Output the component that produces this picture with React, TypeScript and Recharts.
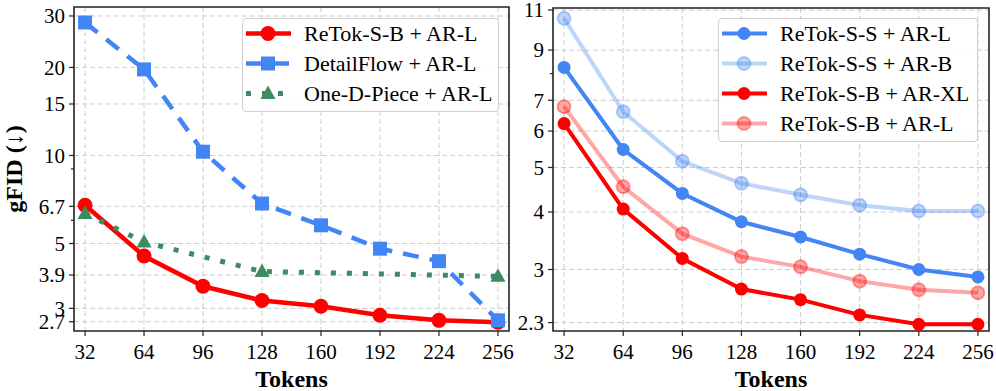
import React from 'react';
import { LineChart, Line, XAxis, YAxis, CartesianGrid, ReferenceArea } from 'recharts';

const tokens = [32, 64, 96, 128, 160, 192, 224, 256];

// left panel
const retokSBArL = [6.76, 4.53, 3.57, 3.19, 3.05, 2.84, 2.73, 2.69];
const detailFlowArL = [28.5, 19.7, 10.3, 6.85, 5.77, 4.8, 4.35, 2.73];
const oneDPieceArL = [6.33, 5.06, null, 4.01, null, null, null, 3.86];
const leftTicks = [2.7, 3, 3.9, 5, 6.7, 10, 15, 20, 30];
const leftMinor = [6, 9];

// right panel
const retokSSArL = [8.25, 5.47, 4.39, 3.81, 3.53, 3.24, 3.0, 2.89];
const retokSSArB = [10.55, 6.61, 5.16, 4.62, 4.36, 4.14, 4.02, 4.02];
const retokSBArXL = [6.23, 4.06, 3.17, 2.72, 2.58, 2.39, 2.28, 2.28];
const retokSBArL2 = [6.78, 4.54, 3.59, 3.2, 3.04, 2.83, 2.71, 2.67];
const rightTicks = [2.3, 3, 4, 5, 6, 7, 9, 11];
const rightMinor = [8];

const leftData = tokens.map((t, i) => ({
  t,
  a: retokSBArL[i],
  b: detailFlowArL[i],
  c: oneDPieceArL[i],
}));

const rightData = tokens.map((t, i) => ({
  t,
  a: retokSSArL[i],
  b: retokSSArB[i],
  c: retokSBArXL[i],
  d: retokSBArL2[i],
}));

const RED = '#ff0000';
const BLUE = '#4285f4';
const GREEN = '#3d8b60';
const SERIF = '"Liberation Serif", "Times New Roman", serif';
const TICK_SIZE = 5;
const TICK_MARGIN = 4;

const circleDot = (color: string, r: number, alpha = 1) => (p: any) => {
  if (p.value == null || p.cx == null) return <g key={p.index} />;
  return (
    <circle
      key={p.index}
      cx={p.cx}
      cy={p.cy}
      r={r}
      fill={color}
      fillOpacity={alpha}
      stroke={color}
      strokeOpacity={alpha}
      strokeWidth={alpha < 1 ? 2 : 0}
    />
  );
};

const squareDot = (color: string, s: number) => (p: any) => {
  if (p.value == null || p.cx == null) return <g key={p.index} />;
  return <rect key={p.index} x={p.cx - s / 2} y={p.cy - s / 2} width={s} height={s} fill={color} />;
};

const triDot = (color: string, s: number) => (p: any) => {
  if (p.value == null || p.cx == null) return <g key={p.index} />;
  const h = s * 0.9;
  return (
    <path
      key={p.index}
      d={`M${p.cx},${p.cy - h * 0.6} L${p.cx + s / 2},${p.cy + h * 0.4} L${p.cx - s / 2},${p.cy + h * 0.4} Z`}
      fill={color}
    />
  );
};

const makeYTick = (major: number[]) => (props: any) => {
  const { x, y, payload } = props;
  const isMajor = major.includes(payload.value);
  const ax = x + TICK_SIZE + TICK_MARGIN;
  return (
    <g>
      <line x1={ax} x2={ax - (isMajor ? TICK_SIZE : 3)} y1={y} y2={y} stroke="#222" strokeWidth={1.2} />
      {isMajor && (
        <text x={x} y={y} dy="0.35em" textAnchor="end" fontFamily={SERIF} fontSize={21} fill="#000">
          {payload.value}
        </text>
      )}
    </g>
  );
};

const tokensLabel = ({ viewBox }: any) => (
  <text
    x={viewBox.x + viewBox.width / 2}
    y={viewBox.y + viewBox.height - 4}
    textAnchor="middle"
    fontFamily={SERIF}
    fontWeight="bold"
    fontSize={24}
    fill="#000"
  >
    Tokens
  </text>
);

const gfidLabel = ({ viewBox }: any) => {
  const cx = 14;
  const cy = viewBox.y + viewBox.height / 2;
  return (
    <text
      x={cx}
      y={cy}
      transform={`rotate(-90 ${cx} ${cy})`}
      textAnchor="middle"
      dominantBaseline="central"
      fontFamily={SERIF}
      fontWeight="bold"
      fontSize={24}
      fill="#000"
    >
      gFID (↓)
    </text>
  );
};

type LegendItem = { name: string; color: string; alpha?: number; dash?: string; marker: 'circle' | 'square' | 'tri'; width: number };

const leftLegend: LegendItem[] = [
  { name: 'ReTok-S-B + AR-L', color: RED, marker: 'circle', width: 4.5 },
  { name: 'DetailFlow + AR-L', color: BLUE, marker: 'square', dash: '16 11', width: 4.5 },
  { name: 'One-D-Piece + AR-L', color: GREEN, marker: 'tri', dash: '5 11', width: 5 },
];

const rightLegend: LegendItem[] = [
  { name: 'ReTok-S-S + AR-L', color: BLUE, marker: 'circle', width: 4 },
  { name: 'ReTok-S-S + AR-B', color: BLUE, alpha: 0.35, marker: 'circle', width: 4 },
  { name: 'ReTok-S-B + AR-XL', color: RED, marker: 'circle', width: 4 },
  { name: 'ReTok-S-B + AR-L', color: RED, alpha: 0.35, marker: 'circle', width: 4 },
];

const LegendBox = ({ items, left, top, width }: { items: LegendItem[]; left: number; top: number; width: number }) => (
  <div
    style={{
      position: 'absolute',
      left,
      top,
      width,
      height: items.length * 30 + 4,
      border: '1px solid #d0d0d0',
      borderRadius: 4,
      background: 'rgba(255,255,255,0.85)',
      boxSizing: 'border-box',
    }}
  >
    <svg width={width} height={items.length * 30 + 4} style={{ position: 'absolute', left: -1, top: -1 }}>
      {items.map((it, i) => {
        const y = 15.5 + i * 30;
        const a = it.alpha ?? 1;
        return (
          <g key={it.name}>
            <line
              x1={4}
              x2={49}
              y1={y}
              y2={y}
              stroke={it.color}
              strokeOpacity={a}
              strokeWidth={it.width}
              strokeDasharray={it.dash}
            />
            {it.marker === 'circle' && (
              <circle cx={26} cy={y} r={it.width > 4.2 ? 7.5 : 6.5} fill={it.color} fillOpacity={a} stroke={it.color} strokeOpacity={a} strokeWidth={a < 1 ? 2 : 0} />
            )}
            {it.marker === 'square' && <rect x={26 - 7} y={y - 7} width={14} height={14} fill={it.color} />}
            {it.marker === 'tri' && <path d={`M26,${y - 8} L33.5,${y + 5.5} L18.5,${y + 5.5} Z`} fill={it.color} />}
            <text x={62} y={y} dy="0.35em" fontFamily={SERIF} fontSize={22} fill="#000">
              {it.name}
            </text>
          </g>
        );
      })}
    </svg>
  </div>
);

const gridProps = { stroke: '#cccccc', strokeDasharray: '5 3', strokeWidth: 1 };

export default function App() {
  return (
    <div style={{ position: 'absolute', left: 0, top: 0, width: 996, height: 391, background: '#fff' }}>
      <div style={{ position: 'absolute', left: 0, top: 0 }}>
        <LineChart width={520} height={391} data={leftData} margin={{ top: 7, right: 11, bottom: 0, left: 0 }}>
          <CartesianGrid {...gridProps} horizontalValues={leftTicks} verticalValues={tokens} />
          <XAxis
            dataKey="t"
            type="number"
            domain={[26, 262]}
            ticks={tokens}
            interval={0}
            allowDataOverflow
            height={60}
            axisLine={false}
            tickSize={TICK_SIZE}
            tickMargin={8}
            tickLine={{ stroke: '#222', strokeWidth: 1.2 }}
            tick={{ fontFamily: SERIF, fontSize: 21, fill: '#000' }}
            label={tokensLabel}
          />
          <YAxis
            type="number"
            scale="log"
            domain={[2.51, 32.2]}
            allowDataOverflow
            ticks={[...leftTicks, ...leftMinor]}
            interval={0}
            width={74}
            axisLine={false}
            tickLine={false}
            tickSize={TICK_SIZE}
            tickMargin={TICK_MARGIN}
            tick={makeYTick(leftTicks)}
            label={gfidLabel}
          />
          <Line dataKey="a" stroke={RED} strokeWidth={4.5} dot={circleDot(RED, 7.5)} activeDot={false} isAnimationActive={false} />
          <Line dataKey="b" stroke={BLUE} strokeWidth={4.5} strokeDasharray="16 11" dot={squareDot(BLUE, 14)} activeDot={false} isAnimationActive={false} />
          <Line dataKey="c" stroke={GREEN} strokeWidth={5} strokeDasharray="5 11" connectNulls dot={triDot(GREEN, 15)} activeDot={false} isAnimationActive={false} />
          <ReferenceArea x1={26} x2={262} y1={2.51} y2={32.2} fill="none" stroke="#222" strokeWidth={1.6} ifOverflow="visible" />
        </LineChart>
      </div>
      <div style={{ position: 'absolute', left: 500, top: 0 }}>
        <LineChart width={496} height={391} data={rightData} margin={{ top: 8, right: 7, bottom: 0, left: 0 }}>
          <CartesianGrid {...gridProps} horizontalValues={rightTicks} verticalValues={tokens} />
          <XAxis
            dataKey="t"
            type="number"
            domain={[26, 262]}
            ticks={tokens}
            interval={0}
            allowDataOverflow
            height={60}
            axisLine={false}
            tickSize={TICK_SIZE}
            tickMargin={8}
            tickLine={{ stroke: '#222', strokeWidth: 1.2 }}
            tick={{ fontFamily: SERIF, fontSize: 21, fill: '#000' }}
            label={tokensLabel}
          />
          <YAxis
            type="number"
            scale="log"
            domain={[2.205, 11.11]}
            allowDataOverflow
            ticks={[...rightTicks, ...rightMinor]}
            interval={0}
            width={53}
            axisLine={false}
            tickLine={false}
            tickSize={TICK_SIZE}
            tickMargin={TICK_MARGIN}
            tick={makeYTick(rightTicks)}
          />
          <Line dataKey="a" stroke={BLUE} strokeWidth={4} dot={circleDot(BLUE, 6.5)} activeDot={false} isAnimationActive={false} />
          <Line dataKey="b" stroke={BLUE} strokeOpacity={0.35} strokeWidth={4} dot={circleDot(BLUE, 6.5, 0.35)} activeDot={false} isAnimationActive={false} />
          <Line dataKey="c" stroke={RED} strokeWidth={4} dot={circleDot(RED, 6.5)} activeDot={false} isAnimationActive={false} />
          <Line dataKey="d" stroke={RED} strokeOpacity={0.35} strokeWidth={4} dot={circleDot(RED, 6.5, 0.35)} activeDot={false} isAnimationActive={false} />
          <ReferenceArea x1={26} x2={262} y1={2.205} y2={11.11} fill="none" stroke="#222" strokeWidth={1.6} ifOverflow="visible" />
        </LineChart>
      </div>
      <LegendBox items={leftLegend} left={242} top={18} width={257} />
      <LegendBox items={rightLegend} left={718} top={18} width={260} />
    </div>
  );
}
